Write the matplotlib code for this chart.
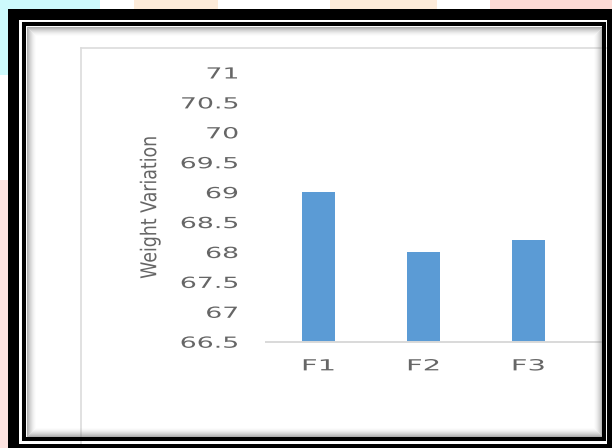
import matplotlib
matplotlib.use('Agg')
import matplotlib.pyplot as plt
from matplotlib import patheffects
from matplotlib.patches import Rectangle
from matplotlib.transforms import Affine2D

# chart data
categories = ['F1', 'F2', 'F3']
weight_variation = [69.0, 68.0, 68.2]
y_ticks = [66.5, 67, 67.5, 68, 68.5, 69, 69.5, 70, 70.5, 71]
y_tick_labels = ['66.5', '67', '67.5', '68', '68.5', '69', '69.5', '70', '70.5', '71']
y_label = 'Weight Variation'


class Stretch(patheffects.AbstractPathEffect):
    # widen drawn text sideways, the screenshot is squashed horizontally
    def __init__(self, sx, anchor='center'):
        super().__init__()
        self.sx = sx
        self.anchor = anchor

    def draw_path(self, renderer, gc, tpath, affine, rgbFace=None):
        ext = tpath.get_extents(affine)
        x0 = ext.x1 if self.anchor == 'right' else (ext.x0 + ext.x1) / 2
        st = Affine2D().translate(-x0, 0).scale(self.sx, 1).translate(x0, 0)
        renderer.draw_path(gc, tpath, affine + st, rgbFace)


W, H = 612, 448
fig = plt.figure(figsize=(W / 100, H / 100), dpi=100)
fig.patch.set_facecolor('white')

# background: pastel patches, white card, chart area border
bg = fig.add_axes([0, 0, 1, 1], zorder=0)
bg.set_xlim(0, W)
bg.set_ylim(H, 0)
bg.axis('off')
for x0, x1, c in [(0, 100, '#cdfafc'), (134, 218, '#fdebd9'),
                  (330, 437, '#fdebd9'), (490, 612, '#fddad5')]:
    bg.add_patch(Rectangle((x0, 0), x1 - x0, 9, color=c, lw=0))
bg.add_patch(Rectangle((0, 0), 8, 75, color='#cdfafc', lw=0))
bg.add_patch(Rectangle((0, 180), 8, 268, color='#fde3e0', lw=0))
bg.plot([81, 612], [48, 48], color='#dcdcdc', lw=1.2)
bg.plot([81, 81], [48, 448], color='#dcdcdc', lw=1.2)

# the bar chart
ax = fig.add_axes([266 / W, (H - 341.7) / H, (605 - 266) / W, 269.2 / H], zorder=1)
ax.set_facecolor('none')
x = list(range(len(categories)))
ax.bar(x, weight_variation, width=0.314, color='#5b9bd5', zorder=2)
ax.set_xlim(-0.5, -0.5 + 339 / 105)
ax.set_ylim(66.5, 71)
ax.set_xticks(x)
ax.set_xticklabels(categories)
ax.set_yticks(y_ticks)
ax.set_yticklabels(y_tick_labels)
for s in ['top', 'right', 'left']:
    ax.spines[s].set_visible(False)
ax.spines['bottom'].set_color('#d9d9d9')
ax.spines['bottom'].set_linewidth(1.4)
ax.tick_params(axis='both', length=0, labelsize=11, colors='#666666')
ax.tick_params(axis='y', pad=20)
ax.tick_params(axis='x', pad=12)
for t in ax.get_yticklabels():
    t.set_path_effects([Stretch(1.75, 'right')])
for t in ax.get_xticklabels():
    t.set_path_effects([Stretch(1.9)])

ax.set_ylabel(y_label, fontsize=12.5, color='#666666')
ax.yaxis.label.set_va('center')
ax.yaxis.set_label_coords((150 - 266) / 339, 0.5)
ax.yaxis.label.set_path_effects([Stretch(1.25)])

# frame on top: inner shadow, inner black line, thick outer border
ov = fig.add_axes([0, 0, 1, 1], zorder=3)
ov.set_facecolor('none')
ov.set_xlim(0, W)
ov.set_ylim(H, 0)
ov.axis('off')
for i in range(9):
    ov.add_patch(Rectangle((26.5 + i, 27.5 + i), 575 - 2 * i, 409 - 2 * i,
                           fill=False, ec='#7a7a7a', lw=0.72,
                           alpha=0.6 * (1 - i / 9) ** 1.6))
ov.add_patch(Rectangle((24, 24.5), 580, 414.5, fill=False, ec='black', lw=2.9))
ov.add_patch(Rectangle((8, 9), 11, 439, color='black', lw=0))
ov.add_patch(Rectangle((8, 9), 604, 11, color='black', lw=0))
ov.add_patch(Rectangle((607, 9), 5, 439, color='black', lw=0))
ov.add_patch(Rectangle((8, 444), 604, 4, color='black', lw=0))

plt.savefig('out.png', dpi=100)
